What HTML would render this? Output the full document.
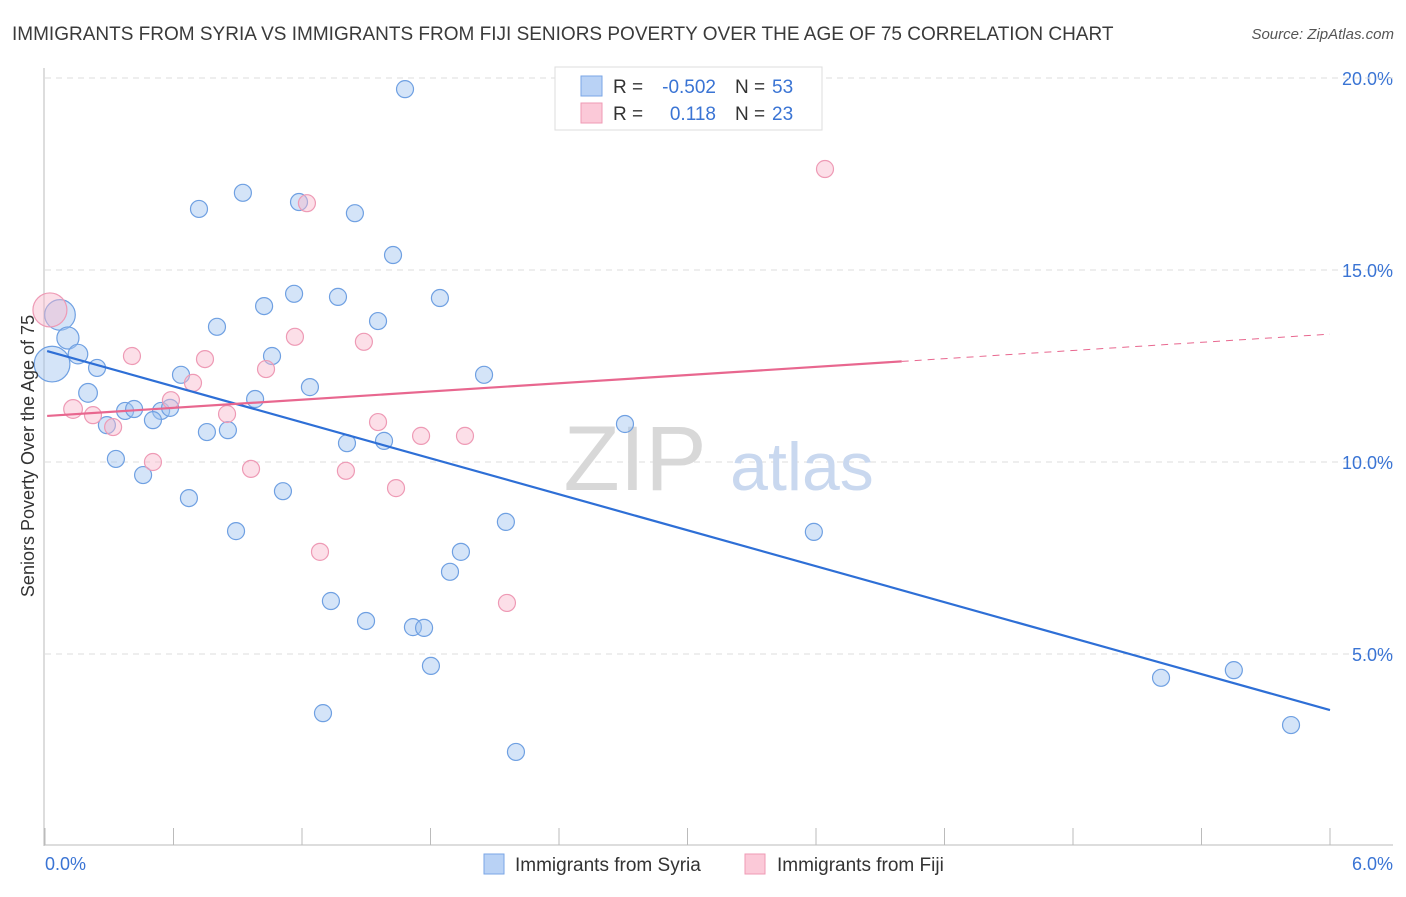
<!DOCTYPE html>
<html><head><meta charset="utf-8"><style>
body{margin:0;background:#fff;font-family:"Liberation Sans",sans-serif}
svg text{font-family:"Liberation Sans",sans-serif}
</style></head><body>
<svg width="1406" height="892" xmlns="http://www.w3.org/2000/svg">
<text x="12" y="40" font-size="19" fill="#3a3a3a">IMMIGRANTS FROM SYRIA VS IMMIGRANTS FROM FIJI SENIORS POVERTY OVER THE AGE OF 75 CORRELATION CHART</text>
<text x="1394" y="39" font-size="15" fill="#555" font-style="italic" text-anchor="end">Source: ZipAtlas.com</text>
<g id="grid"></g>
<text x="635" y="490" font-size="92" fill="#d8d8d8" font-family="Liberation Serif" text-anchor="middle">ZIP</text>
<text x="802" y="490" font-size="68" fill="#c9d8ef" text-anchor="middle">atlas</text>
<g id="pts"></g>
<g id="lines"></g>
<text transform="translate(34,456) rotate(-90)" font-size="18" fill="#333" text-anchor="middle">Seniors Poverty Over the Age of 75</text>
<text x="45" y="870" font-size="18" fill="#3a74d4">0.0%</text>
<text x="1393" y="870" font-size="18" fill="#3a74d4" text-anchor="end">6.0%</text>
<g>
<rect x="555" y="67" width="267" height="63" fill="#fff" stroke="#ddd"/>
<rect x="581" y="76" width="21" height="20" fill="#b9d2f5" stroke="#7aa6e6"/>
<rect x="581" y="103" width="21" height="20" fill="#fbc9d8" stroke="#ef9ab4"/>
<text x="613" y="93" font-size="19" fill="#333">R = </text>
<text x="716" y="93" font-size="19" fill="#3a74d4" text-anchor="end">-0.502</text>
<text x="735" y="93" font-size="19" fill="#333">N = </text>
<text x="772" y="93" font-size="19" fill="#3a74d4">53</text>
<text x="613" y="120" font-size="19" fill="#333">R = </text>
<text x="716" y="120" font-size="19" fill="#3a74d4" text-anchor="end">0.118</text>
<text x="735" y="120" font-size="19" fill="#333">N = </text>
<text x="772" y="120" font-size="19" fill="#3a74d4">23</text>
</g>
<g>
<rect x="484" y="854" width="20" height="20" fill="#b9d2f5" stroke="#7aa6e6"/>
<text x="515" y="871" font-size="19" fill="#333">Immigrants from Syria</text></g>
<g>
<rect x="745" y="854" width="20" height="20" fill="#fbc9d8" stroke="#ef9ab4"/>
<text x="777" y="871" font-size="19" fill="#333">Immigrants from Fiji</text></g>
</svg>
<script>
const yTicks=[5,10,15,20];
const yTickLabels=["5.0%","10.0%","15.0%","20.0%"];
const xTicks=[0,0.6,1.2,1.8,2.4,3.0,3.6,4.2,4.8,5.4,6.0];
const syriaX=[1.681,0.924,0.719,1.186,1.447,1.625,1.163,1.368,1.023,1.844,1.555,0.803,0.070,0.107,0.154,0.033,0.243,0.635,1.060,1.237,2.050,0.201,0.981,0.374,0.416,0.542,0.584,0.504,0.289,0.756,0.854,1.410,1.583,2.708,0.331,0.458,0.672,1.111,2.152,0.892,3.590,1.942,1.891,1.335,1.499,1.718,1.770,1.802,5.551,5.211,1.298,2.199,5.818];
const syriaY=[19.71,17.01,16.59,16.77,16.48,15.39,14.38,14.30,14.06,14.27,13.67,13.52,13.83,13.23,12.81,12.55,12.45,12.27,12.76,11.95,12.27,11.80,11.64,11.33,11.38,11.33,11.41,11.09,10.96,10.78,10.83,10.49,10.55,10.99,10.08,9.66,9.06,9.24,8.44,8.20,8.18,7.66,7.14,6.38,5.86,5.70,5.68,4.69,4.58,4.38,3.46,2.45,3.15];
const syriaSize=[1,1,1,1,1,1,1,1,1,1,1,1,1.8,1.3,1.15,2.1,1,1,1,1,1,1.1,1,1,1,1,1,1,1,1,1,1,1,1,1,1,1,1,1,1,1,1,1,1,1,1,1,1,1,1,1,1,1];
const fijiX=[0.023,1.223,3.642,1.167,1.489,0.406,0.747,1.032,0.691,0.131,0.224,0.588,0.850,0.318,1.555,1.756,1.961,0.504,0.962,1.405,1.639,1.284,2.157];
const fijiY=[13.96,16.74,17.63,13.26,13.13,12.76,12.68,12.42,12.06,11.38,11.22,11.61,11.25,10.91,11.04,10.68,10.68,10.0,9.82,9.77,9.32,7.66,6.33];
const fijiSize=[2,1,1,1,1,1,1,1,1,1.1,1,1,1,1,1,1,1,1,1,1,1,1,1];
const syriaTrend=[12.89,3.54];
const fijiTrend=[11.2,13.33];
const fijiSolidEnd=4.0;
const X=v=>45+v/6*1285, Y=v=>846-v*38.4;
const NS="http://www.w3.org/2000/svg";
function mk(t,a,p){const e=document.createElementNS(NS,t);for(const k in a)e.setAttribute(k,a[k]);p.appendChild(e);return e;}
const g=document.getElementById('grid');
yTicks.forEach((t,i)=>{
 const l=mk('line',{x1:45,x2:1393,y1:Y(t),y2:Y(t),stroke:'#ddd','stroke-dasharray':'6,5'},g);
 
 
 const tx=mk('text',{x:1393,y:Y(t)+7,'font-size':18,fill:'#3a74d4','text-anchor':'end'},g);tx.textContent=yTickLabels[i];
 
 
});
mk('line',{x1:45,x2:1393,y1:Y(20),y2:Y(20),stroke:'#ddd','stroke-dasharray':'6,5'},g);
const ax=mk('line',{x1:44,x2:44,y1:68,y2:846,stroke:'#bbb'},g);


const bx=mk('line',{x1:44,x2:1393,y1:845,y2:845,stroke:'#bbb'},g);


xTicks.forEach(t=>{const l=mk('line',{x1:X(t),x2:X(t),y1:828,y2:845,stroke:'#bbb'},g);
 
 });
const p=document.getElementById('pts');
syriaX.forEach((x,i)=>{const c=mk('circle',{cx:X(x),cy:Y(syriaY[i]),r:8.5*syriaSize[i],fill:'rgba(160,195,240,0.45)',stroke:'#6fa0e2','stroke-width':1.2},p);
 
 });
fijiX.forEach((x,i)=>{const c=mk('circle',{cx:X(x),cy:Y(fijiY[i]),r:8.5*fijiSize[i],fill:'rgba(248,185,205,0.45)',stroke:'#ee9ab5','stroke-width':1.2},p);
 
 });
const L=document.getElementById('lines');
const s=mk('line',{x1:X(0.01),y1:Y(syriaTrend[0]),x2:X(6),y2:Y(syriaTrend[1]),stroke:'#2e6fd6','stroke-width':2.2},L);


const fy=v=>fijiTrend[0]+(fijiTrend[1]-fijiTrend[0])*v/6;
const f=mk('line',{x1:X(0.01),y1:Y(fy(0)),x2:X(fijiSolidEnd),y2:Y(fy(fijiSolidEnd)),stroke:'#e8678f','stroke-width':2.2},L);


const fd=mk('line',{x1:X(fijiSolidEnd),y1:Y(fy(fijiSolidEnd)),x2:X(6),y2:Y(fy(6)),stroke:'#e8678f','stroke-width':1,'stroke-dasharray':'7,6'},L);


</script>
</body></html>
